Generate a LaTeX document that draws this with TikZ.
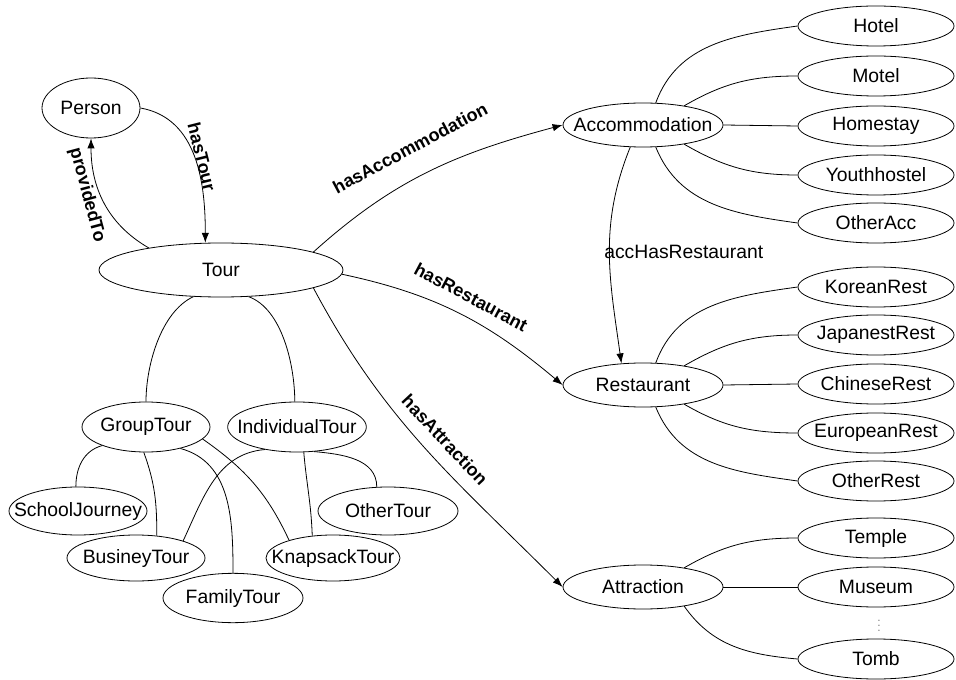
\documentclass[tikz,border=0pt]{standalone}
\usepackage{fontspec}
\setmainfont{Liberation Sans}
\usetikzlibrary{arrows.meta,shapes.geometric}

\begin{document}
\begin{tikzpicture}[x=0.75pt,y=0.75pt,
    cls/.style={draw,ellipse,line width=0.6pt,inner xsep=-40pt,inner ysep=0pt,
                font=\fontsize{14.5}{16}\selectfont},
    mid/.style={cls,minimum width=120pt,minimum height=33pt},
    leaf/.style={cls,minimum width=117pt,minimum height=30pt},
    rel/.style={line width=0.6pt,-{Latex[length=7.5pt,width=5.5pt]}},
    sub/.style={line width=0.6pt},
    lbl/.style={inner sep=0pt,font=\bfseries\fontsize{13.5}{15}\selectfont}]
  \useasboundingbox (0,0) rectangle (956,679);

  % tour side
  \node[cls,minimum width=73.5pt,minimum height=45pt] (person) at (91,571) {Person};
  \node[cls,minimum width=183pt,minimum height=40.5pt] (tour) at (221,409) {Tour};
  \node[cls,minimum width=96pt,minimum height=37.5pt] (group) at (146,252) {GroupTour};
  \node[cls,minimum width=104pt,minimum height=37.5pt] (indiv) at (297,252) {IndividualTour};
  \node[cls,minimum width=103.5pt,minimum height=36pt] (school) at (78,168) {SchoolJourney};
  \node[cls,minimum width=105pt,minimum height=36pt] (othertour) at (388,168) {OtherTour};
  \node[cls,minimum width=103.5pt,minimum height=34.5pt] (busy) at (136,121) {BusineyTour};
  \node[cls,minimum width=100.5pt,minimum height=34.5pt] (knapsack) at (333,121) {KnapsackTour};
  \node[cls,minimum width=105pt,minimum height=37pt] (family) at (233,81) {FamilyTour};

  % middle column
  \node[mid] (acc) at (643,554) {Accommodation};
  \node[mid] (rest) at (643,294) {Restaurant};
  \node[mid] (attr) at (643,92) {Attraction};

  % right column
  \node[leaf] (hotel) at (876,653) {Hotel};
  \node[leaf] (motel) at (876,603) {Motel};
  \node[leaf] (homestay) at (876,553) {Homestay};
  \node[leaf] (youth) at (876,504) {Youthhostel};
  \node[leaf] (otheracc) at (876,456) {OtherAcc};
  \node[leaf] (korean) at (876,392) {KoreanRest};
  \node[leaf] (japanese) at (876,344) {JapanestRest};
  \node[leaf] (chinese) at (876,295) {ChineseRest};
  \node[leaf] (european) at (876,246) {EuropeanRest};
  \node[leaf] (otherrest) at (876,198) {OtherRest};
  \node[leaf] (temple) at (876,141) {Temple};
  \node[leaf] (museum) at (876,92) {Museum};
  \node[leaf] (tomb) at (876,20) {Tomb};
  \node[text=gray,inner sep=0pt,font=\fontsize{9}{10}\selectfont] (more) at (879,57) {$\vdots$};

  % relations
  \draw[rel] (person.east) to[out=-10,in=90] (tour.120);
  \draw[rel] (tour.163) to[out=150,in=-90] (person.south);
  \draw[rel] (tour.11) to[out=42,in=195] (acc.west);
  \draw[rel] (tour.-2) to[out=-12,in=140] (rest.west);
  \draw[rel] (tour.-11) to[out=-62,in=135] (attr.west);
  \draw[rel] (acc.-120) to[out=-112,in=98] (rest.135);

  \node[lbl,rotate=-76] (lhastour) at (202,522) {hasTour};
  \node[lbl,rotate=-75] (lprovided) at (87,484) {providedTo};
  \node[lbl,rotate=28] (lhasacc) at (410,531) {hasAccommodation};
  \node[lbl,rotate=-28] (lhasrest) at (471,382) {hasRestaurant};
  \node[lbl,rotate=-47] (lhasattr) at (445,239) {hasAttraction};
  \node[anchor=west,inner sep=0pt,font=\fontsize{14.5}{16}\selectfont] (laccrest) at (604,427) {accHasRestaurant};

  % subclasses of tour
  \draw[sub] (tour.-136) to[out=205,in=90,looseness=0.8] (group.north);
  \draw[sub] (tour.-44) to[out=-20,in=90,looseness=0.8] (indiv.95);
  \draw[sub] (group.-157) to[out=195,in=90] (school.95);
  \draw[sub] (group.-95) to[out=-70,in=90] (busy.47);
  \draw[sub] (group.-32) to[out=-15,in=90] (family.north);
  \draw[sub] (group.-12) to[out=-35,in=115] (knapsack.158);
  \draw[sub] (indiv.-145) to[out=185,in=65] (busy.20);
  \draw[sub] (indiv.-75) to[out=-85,in=92] (knapsack.133);
  \draw[sub] (indiv.-55) to[out=-5,in=90] (othertour.115);

  % subclasses of accommodation, restaurant, attraction
  \draw[sub] (acc.60) to[out=70,in=188] (hotel.west);
  \draw[sub] (acc.25) to[out=30,in=180] (motel.west);
  \draw[sub] (acc.east) -- (homestay.west);
  \draw[sub] (acc.-25) to[out=-30,in=180] (youth.west);
  \draw[sub] (acc.-60) to[out=-68,in=172] (otheracc.west);

  \draw[sub] (rest.60) to[out=70,in=188] (korean.west);
  \draw[sub] (rest.25) to[out=30,in=180] (japanese.west);
  \draw[sub] (rest.east) -- (chinese.west);
  \draw[sub] (rest.-25) to[out=-30,in=180] (european.west);
  \draw[sub] (rest.-60) to[out=-68,in=172] (otherrest.west);

  \draw[sub] (attr.25) to[out=30,in=180] (temple.west);
  \draw[sub] (attr.east) -- (museum.west);
  \draw[sub] (attr.-25) to[out=-55,in=175] (tomb.west);
\end{tikzpicture}
\end{document}
